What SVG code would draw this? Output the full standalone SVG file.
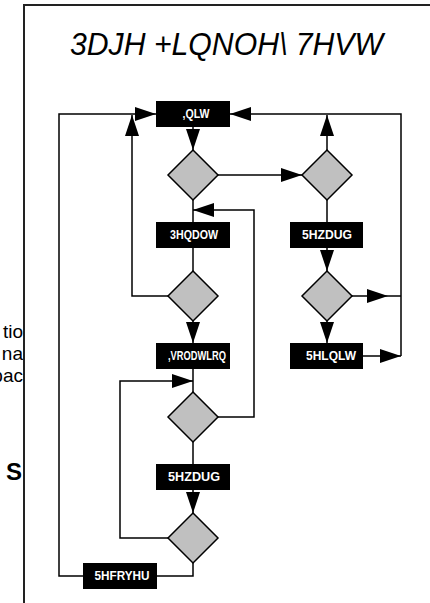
<svg xmlns="http://www.w3.org/2000/svg" width="430" height="603" viewBox="0 0 430 603">
<defs>
<marker id="ah" markerUnits="userSpaceOnUse" markerWidth="21" markerHeight="14" refX="21" refY="7" orient="auto">
<path d="M0,0 L21,7 L0,14 z" fill="#000"/>
</marker>
<style>
.box{fill:#000}
.lbl{fill:#fff;font-family:"Liberation Sans",Arial,sans-serif;font-size:12px;font-weight:bold;text-anchor:middle}
.dia{fill:#c0c0c0;stroke:#000;stroke-width:1.5}
.con{fill:none;stroke:#000;stroke-width:1.5}
.bg{font-family:"Liberation Sans",Arial,sans-serif;fill:#000;text-anchor:end}
</style>
</defs>
<rect width="430" height="603" fill="#fff"/>
<g id="background-text">
<text class="bg" x="23" y="338" font-size="19">tio</text>
<text class="bg" x="23" y="360" font-size="19">na</text>
<text class="bg" x="23" y="382" font-size="19">pac</text>
<text class="bg" x="22" y="480" font-size="24" font-weight="bold">S</text>
</g>
<g id="panel">
<rect x="24" y="5" width="410" height="603" fill="#fff"/>
<path d="M24,603 V5 H430" fill="none" stroke="#222" stroke-width="2"/>
</g>
<text id="title" x="70" y="55" font-family="'Liberation Sans',Arial,sans-serif" font-size="31" font-style="italic" textLength="313" lengthAdjust="spacingAndGlyphs">3DJH +LQNOH\  7HVW</text>
<g id="connectors">
<path class="con" d="M193,127 V150" marker-end="url(#ah)"/>
<path class="con" d="M193,200 V222"/>
<path class="con" d="M193,248 V271"/>
<path class="con" d="M193,321 V343" marker-end="url(#ah)"/>
<path class="con" d="M193,369 V392"/>
<path class="con" d="M193,442 V464"/>
<path class="con" d="M193,490 V513" marker-end="url(#ah)"/>
<path class="con" d="M168,538 H120 V381 H193" marker-end="url(#ah)"/>
<path class="con" d="M193,563 V576 H157"/>
<path class="con" d="M83,576 H59 V114 H156" marker-end="url(#ah)"/>
<path class="con" d="M168,296 H132 V115" marker-end="url(#ah)"/>
<path class="con" d="M218,417 H254 V210 H193" marker-end="url(#ah)"/>
<path class="con" d="M218,175 H302" marker-end="url(#ah)"/>
<path class="con" d="M327,150 V115" marker-end="url(#ah)"/>
<path class="con" d="M327,200 V222"/>
<path class="con" d="M327,248 V271" marker-end="url(#ah)"/>
<path class="con" d="M327,321 V343" marker-end="url(#ah)"/>
<path class="con" d="M352,296 H388" marker-end="url(#ah)"/>
<path class="con" d="M388,296 H401"/>
<path class="con" d="M363,356 H401" marker-end="url(#ah)"/>
<path class="con" d="M401,356 V114 H230" marker-end="url(#ah)"/>
</g>
<g id="n-init"><rect class="box" x="156" y="101" width="74" height="26"/><text class="lbl" x="196" y="118" textLength="27" lengthAdjust="spacingAndGlyphs">,QLW</text></g>
<g id="d1"><polygon class="dia" points="193,150 218,175 193,200 168,175"/></g>
<g id="d2"><polygon class="dia" points="327,150 352,175 327,200 302,175"/></g>
<g id="n-penalt"><rect class="box" x="156" y="222" width="74" height="26"/><text class="lbl" x="194" y="239" textLength="48" lengthAdjust="spacingAndGlyphs">3HQDOW</text></g>
<g id="n-reward1"><rect class="box" x="290" y="222" width="73" height="26"/><text class="lbl" x="327" y="239" textLength="50" lengthAdjust="spacingAndGlyphs">5HZDUG</text></g>
<g id="d4"><polygon class="dia" points="193,271 218,296 193,321 168,296"/></g>
<g id="d3"><polygon class="dia" points="327,271 352,296 327,321 302,296"/></g>
<g id="n-isolation"><rect class="box" x="156" y="343" width="74" height="26"/><text class="lbl" x="197" y="360" textLength="58" lengthAdjust="spacingAndGlyphs">,VRODWLRQ</text></g>
<g id="n-reinit"><rect class="box" x="290" y="343" width="73" height="26"/><text class="lbl" x="331" y="360" textLength="50" lengthAdjust="spacingAndGlyphs">5HLQLW</text></g>
<g id="d5"><polygon class="dia" points="193,392 218,417 193,442 168,417"/></g>
<g id="n-reward2"><rect class="box" x="156" y="464" width="74" height="26"/><text class="lbl" x="194" y="481" textLength="52" lengthAdjust="spacingAndGlyphs">5HZDUG</text></g>
<g id="d6"><polygon class="dia" points="193,513 218,538 193,563 168,538"/></g>
<g id="n-recover"><rect class="box" x="83" y="563" width="74" height="26"/><text class="lbl" x="122" y="580" textLength="55" lengthAdjust="spacingAndGlyphs">5HFRYHU</text></g>
</svg>
